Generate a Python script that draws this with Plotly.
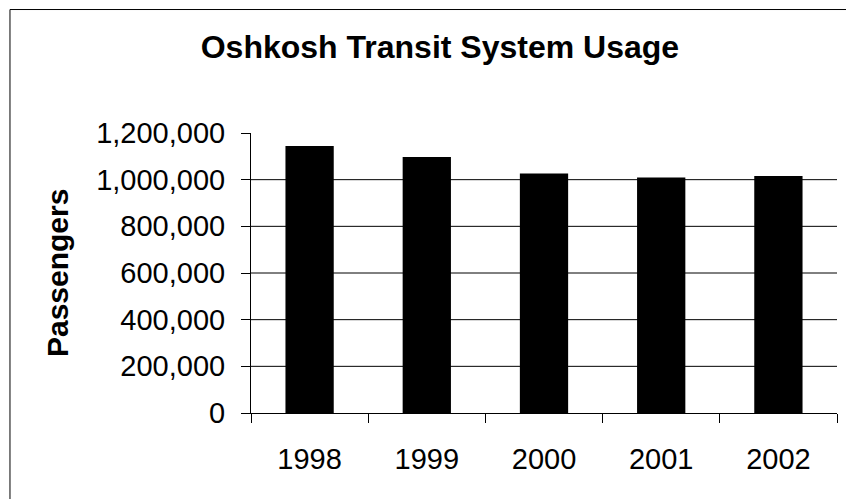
import plotly.graph_objects as go

years = ["1998", "1999", "2000", "2001", "2002"]
passengers = [1144000, 1097000, 1026000, 1009000, 1016000]
y_ticks = [0, 200000, 400000, 600000, 800000, 1000000, 1200000]
grid_vals = [200000, 400000, 600000, 800000, 1000000]

FONT = "Liberation Sans, Arial, sans-serif"

fig = go.Figure()
fig.add_trace(go.Bar(
    x=years, y=passengers,
    marker=dict(color="black", line=dict(color="black", width=0)),
))

shapes = []
for g in grid_vals:
    shapes.append(dict(type="line", xref="paper", yref="y", x0=0, x1=1, y0=g, y1=g,
                       line=dict(color="black", width=1), layer="below"))
# outer frame of the chart
shapes.append(dict(type="line", xref="paper", yref="paper", x0=-0.4113, x1=1.2,
                   y0=1.441, y1=1.441, line=dict(color="black", width=1)))
shapes.append(dict(type="line", xref="paper", yref="paper", x0=-0.4113, x1=-0.4113,
                   y0=-0.5, y1=1.441, line=dict(color="black", width=1)))

fig.update_layout(
    width=846, height=499,
    margin=dict(l=251, r=9, t=133, b=86),
    paper_bgcolor="white", plot_bgcolor="white",
    showlegend=False,
    bargap=0.588,
    font=dict(family=FONT, color="black", size=29),
    title=dict(text="<b>Oshkosh Transit System Usage</b>", x=0.52, xanchor="center",
               y=0.907, yanchor="middle", xref="container", yref="container",
               font=dict(family=FONT, size=32, color="black")),
    shapes=shapes,
    annotations=[dict(text="<b>Passengers</b>", textangle=-90, xref="paper", yref="paper",
                      x=-0.331, y=0.5, xanchor="center", yanchor="middle", showarrow=False,
                      font=dict(family=FONT, size=30, color="black"))],
    xaxis=dict(type="category", showline=True, linecolor="black", linewidth=1,
               ticks="outside", ticklen=9, tickcolor="black", tickwidth=1,
               tickson="boundaries", showgrid=False, zeroline=False,
               ticklabelstandoff=20,
               tickfont=dict(family=FONT, size=29, color="black")),
    yaxis=dict(range=[0, 1200000], tickvals=y_ticks, tickformat=",d",
               showline=True, linecolor="black", linewidth=1,
               ticks="outside", ticklen=9, tickcolor="black", tickwidth=1,
               showgrid=False, zeroline=False, ticklabelstandoff=10,
               tickfont=dict(family=FONT, size=29, color="black")),
)

fig.write_html("out.html", config={"displayModeBar": False},
               post_script="document.body.style.margin='0';document.body.style.padding='0';")
